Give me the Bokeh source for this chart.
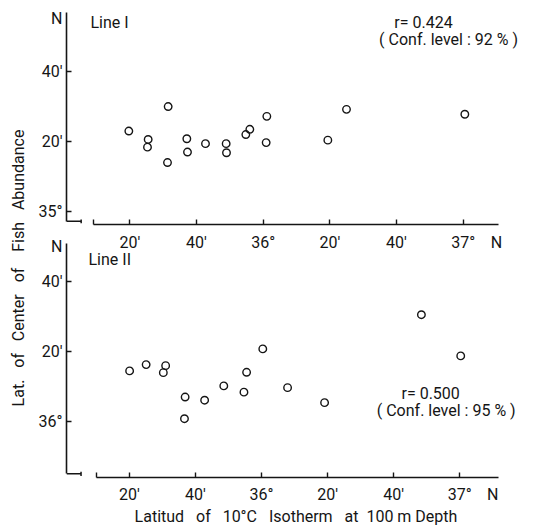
import math
from bokeh.plotting import figure
from bokeh.models import Range1d, Label, FixedTicker
from bokeh.layouts import row, column
from bokeh.embed import file_html
from bokeh.resources import INLINE

# All latitudes in arc-minutes north of 35°00'N
# Line I
line1_iso = [19.7, 25.5, 25.3, 31.5, 31.3, 37.1, 37.3, 42.7, 48.9, 49.0, 54.8, 56.0, 61.1, 60.9, 79.4, 85.0, 120.5]
line1_fish = [22.9, 20.5, 18.3, 29.9, 13.9, 20.7, 16.9, 19.3, 19.3, 16.7, 21.9, 23.4, 27.1, 19.6, 20.3, 29.1, 27.7]
# Line II
line2_iso = [20.1, 25.1, 31.0, 30.3, 36.9, 36.7, 42.8, 48.6, 55.5, 54.7, 60.4, 67.9, 79.1, 108.4, 120.3]
line2_fish = [74.5, 76.3, 76.0, 74.0, 67.0, 60.8, 66.1, 70.2, 74.1, 68.4, 80.8, 69.7, 65.4, 90.6, 78.8]

x_ticks = [20, 40, 60, 80, 100, 120]
x_tick_labels = ["20′", "40′", "36°", "20′", "40′", "37°"]
x_n_pos = 130
y1_ticks = [0, 20, 40]
y1_tick_labels = ["35°", "20′", "40′"]
y1_n_pos = 55
y2_ticks = [60, 80, 100]
y2_tick_labels = ["36°", "20′", "40′"]
y2_n_pos = 110

line1_name = "Line I"
line2_name = "Line II"
line1_stats = ["r= 0.424", "( Conf. level : 92 % )"]
line2_stats = ["r= 0.500", "( Conf. level : 95 % )"]

x_title = "Latitud\u00a0\u00a0 of\u00a0\u00a0 10°C\u00a0\u00a0 Isotherm\u00a0\u00a0 at\u00a0 100 m Depth"
y_title = "Lat.\u00a0\u00a0 of\u00a0\u00a0 Center\u00a0\u00a0 of\u00a0\u00a0\u00a0 Fish\u00a0\u00a0 Abundance"

INK = "#151515"
FONT = "Roboto"
FS = "16px"


def make_panel(xs, ys, xr, yr, width, height, borders, xb, yb_start,
               yticks, ylabels, yn, xstandoff, transparent=False):
    p = figure(width=width, height=height, x_range=Range1d(*xr), y_range=Range1d(*yr),
               toolbar_location=None, output_backend="svg",
               min_border_left=borders[0], min_border_right=borders[1],
               min_border_top=borders[2], min_border_bottom=borders[3])
    p.outline_line_color = None
    p.grid.visible = False
    if transparent:
        p.background_fill_color = None
        p.border_fill_color = None
    else:
        p.background_fill_color = "white"
        p.border_fill_color = "white"

    xa = p.xaxis[0]
    xa.ticker = FixedTicker(ticks=x_ticks + [x_n_pos], minor_ticks=[xb[0]] + x_ticks)
    ov = {t: l for t, l in zip(x_ticks, x_tick_labels)}
    ov[x_n_pos] = "N"
    xa.major_label_overrides = ov
    xa.bounds = xb
    xa.major_label_standoff = xstandoff

    ya = p.yaxis[0]
    ya.ticker = FixedTicker(ticks=yticks + [yn], minor_ticks=yticks)
    ovy = {t: l for t, l in zip(yticks, ylabels)}
    ovy[yn] = "N"
    ya.major_label_overrides = ovy
    ya.bounds = (yb_start, yr[1])
    ya.major_label_standoff = 4

    for ax in (xa, ya):
        ax.axis_line_color = INK
        ax.axis_line_width = 1.6
        ax.major_tick_line_color = None
        ax.major_tick_in = 0
        ax.major_tick_out = 0
        ax.minor_tick_line_color = INK
        ax.minor_tick_line_width = 1.4
        ax.minor_tick_in = 5
        ax.minor_tick_out = 0
        ax.major_label_text_font = FONT
        ax.major_label_text_font_size = FS
        ax.major_label_text_color = INK

    # axis break mark at the lower-left corner
    x0 = xr[0]
    x1 = xr[0] + 4.4
    dy = (yr[1] - yr[0]) * 0.009
    p.segment(x0=[x0, x1], y0=[yb_start, yb_start - dy], x1=[x1, x1], y1=[yb_start, yb_start + dy],
              line_color=INK, line_width=1.5)

    p.scatter(xs, ys, marker="circle", size=7.5, fill_color=None,
              line_color=INK, line_width=1.4)
    return p


def txt(p, x, y, s, align="left", baseline="top", xo=0, yo=0):
    p.add_layout(Label(x=x, y=y, text=s, text_align=align, text_baseline=baseline,
                       x_offset=xo, y_offset=yo, text_font=FONT, text_font_size=FS,
                       text_color=INK))


# ---- top panel (Line I)
top_xr = (1.0, 138.7)
top_yr = (-3.8, 56.77)
top = make_panel(line1_iso, line1_fish, top_xr, top_yr, 526, 259, (36, 31, 12, 35),
                 (9, 130.6), -2.9, y1_ticks, y1_tick_labels, y1_n_pos, 8)
txt(top, top_xr[0], top_yr[1], line1_name, xo=24)
txt(top, 108.1, top_yr[1], line1_stats[0], align="center")
txt(top, 115.6, 51.8, line1_stats[1], align="center")

# ---- bottom panel (Line II)
bot_xr = (1.0, 139.9)
bot_yr = (43.95, 111.0)
bot = make_panel(line2_iso, line2_fish, bot_xr, bot_yr, 526, 293, (32, 31, 8, 51),
                 (10, 131.8), 45.0, y2_ticks, y2_tick_labels, y2_n_pos, 7, transparent=True)
bot.margin = (-24, 0, 0, 0)
txt(bot, bot_xr[0], 109.0, line2_name, xo=22)
txt(bot, 111.2, 70.7, line2_stats[0], align="center")
txt(bot, 115.9, 65.9, line2_stats[1], align="center")
bx = bot.xaxis[0]
bx.axis_label = x_title
bx.axis_label_standoff = 0
bx.axis_label_text_font = FONT
bx.axis_label_text_font_size = FS
bx.axis_label_text_font_style = "normal"
bx.axis_label_text_color = INK

# ---- shared vertical title
lab = figure(width=30, height=528, x_range=Range1d(0, 30), y_range=Range1d(0, 528),
             x_axis_location=None, y_axis_location=None, min_border=0,
             toolbar_location=None, output_backend="svg")
lab.outline_line_color = None
lab.grid.visible = False
lab.add_layout(Label(x=18, y=260.5, text=y_title, angle=math.pi / 2,
                     text_align="center", text_baseline="middle",
                     text_font=FONT, text_font_size=FS, text_color=INK))

layout = row(lab, column(top, bot))
open("out.html", "w").write(file_html(layout, INLINE))
